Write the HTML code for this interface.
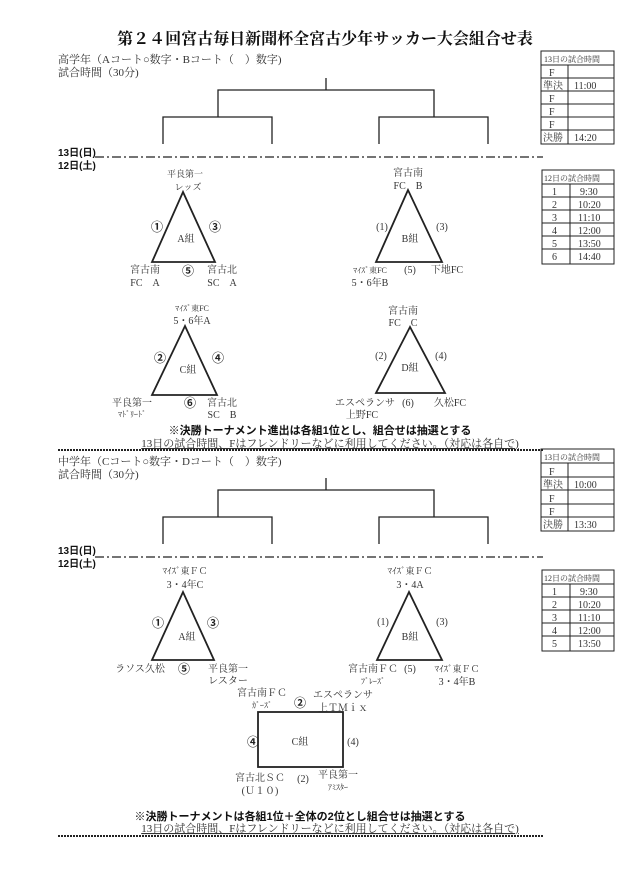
<!DOCTYPE html>
<html><head><meta charset="utf-8"><style>
html,body{margin:0;padding:0;background:#fff;}
svg{display:block;}
text{font-family:"Liberation Serif","Noto Serif CJK SC","Noto Sans CJK JP",serif;fill:#333;font-size:10px;}
.b{font-family:"Liberation Sans","Noto Sans CJK JP",sans-serif;font-weight:bold;fill:#111;}
.c{font-family:"Liberation Sans","Noto Sans CJK JP",sans-serif;font-size:12px;font-weight:bold;fill:#222;}
.l{stroke:#222;stroke-width:1.3;fill:none;}
.t{stroke:#222;stroke-width:1.8;fill:none;}
</style></head><body>
<svg width="640" height="895" viewBox="0 0 640 895" xmlns="http://www.w3.org/2000/svg">
<text x="325" y="44" text-anchor="middle" style="font-size:16px;font-weight:bold;fill:#111">第２４回宮古毎日新聞杯全宮古少年サッカー大会組合せ表</text>
<text x="58" y="63" style="font-size:11px">高学年（Aコート○数字・Bコート（　）数字)</text>
<text x="58" y="76" style="font-size:11px">試合時間（30分)</text>
<path class="l" d="M326 78V90M218 117V90H434V117M163 144V117H272V144M379 144V117H488V144"/>
<text class="b" x="58" y="156" style="font-size:10px">13日(日)</text>
<text class="b" x="58" y="169" style="font-size:10px">12日(土)</text>
<line x1="95" y1="157" x2="543" y2="157" stroke="#222" stroke-width="1.3" stroke-dasharray="9,3,2,3"/>
<g class="l" style="stroke-width:1">
<rect x="541" y="51" width="73" height="93"/>
<path d="M541 65H614M541 78H614M541 91H614M541 104H614M541 117H614M541 130H614M568 65V144"/>
</g>
<text x="544" y="62" style="font-size:8px">13日の試合時間</text>
<text x="549" y="76">F</text><text x="543" y="89">準決</text><text x="574" y="89">11:00</text>
<text x="549" y="102">F</text><text x="549" y="115">F</text><text x="549" y="128">F</text>
<text x="543" y="141">決勝</text><text x="574" y="141">14:20</text>
<g class="l" style="stroke-width:1">
<rect x="542" y="170" width="72" height="94"/>
<path d="M542 184H614M542 197H614M542 210H614M542 223H614M542 236H614M542 249H614M570 184V264"/>
</g>
<text x="544" y="181" style="font-size:8px">12日の試合時間</text>
<text x="552" y="195">1</text><text x="580" y="195">9:30</text>
<text x="552" y="208">2</text><text x="578" y="208">10:20</text>
<text x="552" y="221">3</text><text x="578" y="221">11:10</text>
<text x="552" y="234">4</text><text x="578" y="234">12:00</text>
<text x="552" y="247">5</text><text x="578" y="247">13:50</text>
<text x="552" y="260">6</text><text x="578" y="260">14:40</text>
<path class="t" d="M183 192L152 262H215Z"/>
<path class="t" d="M408 190L376 262H442Z"/>
<path class="t" d="M185 326L152 395H217Z"/>
<path class="t" d="M410 327L376 393H445Z"/>
<g text-anchor="middle">
<text x="185" y="177" style="font-size:9px">平良第一</text><text x="188" y="190" style="font-size:9px">レッズ</text>
<text class="c" x="157" y="231">①</text><text class="c" x="215" y="231">③</text><text x="186" y="242">A組</text>
<text x="145" y="273">宮古南</text><text x="145" y="286">FC　A</text><text class="c" x="188" y="275">⑤</text>
<text x="222" y="273">宮古北</text><text x="222" y="286">SC　A</text>
<text x="408" y="176">宮古南</text><text x="408" y="189">FC　B</text>
<text x="382" y="230">(1)</text><text x="442" y="230">(3)</text><text x="410" y="242">B組</text>
<text x="370" y="273" style="font-size:8px">ﾏｲｽﾞ東FC</text><text x="370" y="286">5・6年B</text><text x="410" y="273">(5)</text><text x="447" y="273">下地FC</text>
<text x="192" y="311" style="font-size:8px">ﾏｲｽﾞ東FC</text><text x="192" y="324">5・6年A</text>
<text class="c" x="160" y="362">②</text><text class="c" x="218" y="362">④</text><text x="188" y="373">C組</text>
<text x="132" y="406">平良第一</text><text x="132" y="417" style="font-size:8px">ﾏﾄﾞﾘｰﾄﾞ</text><text class="c" x="190" y="407">⑥</text>
<text x="222" y="406">宮古北</text><text x="222" y="418">SC　B</text>
<text x="403" y="314">宮古南</text><text x="403" y="326">FC　C</text>
<text x="381" y="359">(2)</text><text x="441" y="359">(4)</text><text x="410" y="371">D組</text>
<text x="365" y="406">エスペランサ</text><text x="362" y="418">上野FC</text><text x="408" y="406">(6)</text><text x="450" y="406">久松FC</text>
<text class="b" x="320" y="434" style="font-size:11px">※決勝トーナメント進出は各組1位とし、組合せは抽選とする</text>
<text x="330" y="447" style="font-size:11px;text-decoration:underline">13日の試合時間、Fはフレンドリーなどに利用してください。（対応は各自で)</text>
</g>
<line x1="58" y1="450" x2="543" y2="450" stroke="#222" stroke-width="2" stroke-dasharray="2,1"/>
<text x="58" y="465" style="font-size:11px">中学年（Cコート○数字・Dコート（　）数字)</text>
<text x="58" y="478" style="font-size:11px">試合時間（30分)</text>
<path class="l" d="M326 478V490M218 517V490H434V517M163 544V517H272V544M379 544V517H488V544"/>
<text class="b" x="58" y="554" style="font-size:10px">13日(日)</text>
<text class="b" x="58" y="567" style="font-size:10px">12日(土)</text>
<line x1="95" y1="557" x2="543" y2="557" stroke="#222" stroke-width="1.3" stroke-dasharray="9,3,2,3"/>
<g class="l" style="stroke-width:1">
<rect x="541" y="449" width="73" height="82"/>
<path d="M541 463H614M541 477H614M541 490H614M541 504H614M541 517H614M568 463V531"/>
</g>
<text x="544" y="460" style="font-size:8px">13日の試合時間</text>
<text x="549" y="475">F</text><text x="543" y="488">準決</text><text x="574" y="488">10:00</text>
<text x="549" y="502">F</text><text x="549" y="515">F</text>
<text x="543" y="528">決勝</text><text x="574" y="528">13:30</text>
<g class="l" style="stroke-width:1">
<rect x="542" y="570" width="72" height="81"/>
<path d="M542 584H614M542 597H614M542 610H614M542 623H614M542 636H614M570 584V651"/>
</g>
<text x="544" y="581" style="font-size:8px">12日の試合時間</text>
<text x="552" y="595">1</text><text x="580" y="595">9:30</text>
<text x="552" y="608">2</text><text x="578" y="608">10:20</text>
<text x="552" y="621">3</text><text x="578" y="621">11:10</text>
<text x="552" y="634">4</text><text x="578" y="634">12:00</text>
<text x="552" y="647">5</text><text x="578" y="647">13:50</text>
<path class="t" d="M183 592L152 660H214Z"/>
<path class="t" d="M409 592L377 660H442Z"/>
<rect class="t" x="258" y="712" width="85" height="55"/>
<g text-anchor="middle">
<text x="185" y="574" style="font-size:9px">ﾏｲｽﾞ東ＦＣ</text><text x="185" y="588">3・4年C</text>
<text class="c" x="158" y="627">①</text><text class="c" x="213" y="627">③</text><text x="187" y="640">A組</text>
<text x="140" y="672">ラソス久松</text><text class="c" x="184" y="673">⑤</text>
<text x="228" y="672">平良第一</text><text x="228" y="684">レスター</text>
<text x="410" y="574" style="font-size:9px">ﾏｲｽﾞ東ＦＣ</text><text x="410" y="588">3・4A</text>
<text x="383" y="625">(1)</text><text x="442" y="625">(3)</text><text x="410" y="640">B組</text>
<text x="373" y="672">宮古南ＦＣ</text><text x="373" y="684" style="font-size:8px">ﾌﾞﾚｰｽﾞ</text><text x="410" y="672">(5)</text>
<text x="457" y="672" style="font-size:9px">ﾏｲｽﾞ東ＦＣ</text><text x="457" y="685">3・4年B</text>
<text x="262" y="696">宮古南ＦＣ</text><text x="262" y="708" style="font-size:8px">ｶﾞｰｽﾞ</text><text class="c" x="300" y="707">②</text>
<text x="343" y="698">エスペランサ</text><text x="343" y="711">上ＴＭｉｘ</text>
<text class="c" x="253" y="746">④</text><text x="300" y="745">C組</text><text x="353" y="745">(4)</text>
<text x="260" y="781">宮古北ＳＣ</text><text x="260" y="794">(Ｕ１０)</text><text x="303" y="782">(2)</text>
<text x="338" y="778">平良第一</text><text x="338" y="790" style="font-size:8px">ｱﾐｽﾀｰ</text>
<text class="b" x="300" y="820" style="font-size:11px">※決勝トーナメントは各組1位＋全体の2位とし組合せは抽選とする</text>
<text x="330" y="832" style="font-size:11px;text-decoration:underline">13日の試合時間、Fはフレンドリーなどに利用してください。（対応は各自で)</text>
</g>
<line x1="58" y1="836" x2="543" y2="836" stroke="#222" stroke-width="2" stroke-dasharray="2,1"/>
</svg>
</body></html>
